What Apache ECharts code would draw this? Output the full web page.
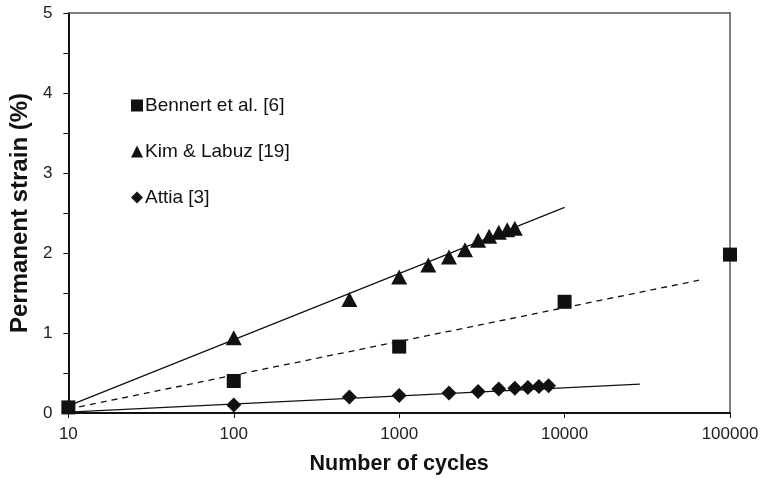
<!DOCTYPE html>
<html>
<head>
<meta charset="utf-8">
<script src="https://cdn.jsdelivr.net/npm/echarts@6/dist/echarts.min.js"></script>
<style>
  html, body { margin: 0; padding: 0; background: #fff; }
  #chart { width: 762px; height: 482px; }
</style>
</head>
<body>
<div id="chart"></div>
<script>
// Measured points
const bennertCycles = [10, 100, 1000, 10000, 100000];
const bennertStrain = [0.07, 0.40, 0.83, 1.39, 1.98];

const kimCycles = [100, 500, 1000, 1500, 2000, 2500, 3000, 3500, 4000, 4500, 5000];
const kimStrain = [0.94, 1.42, 1.70, 1.85, 1.95, 2.04, 2.16, 2.21, 2.26, 2.29, 2.31];

const attiaCycles = [100, 500, 1000, 2000, 3000, 4000, 5000, 6000, 7000, 8000];
const attiaStrain = [0.10, 0.20, 0.22, 0.25, 0.27, 0.30, 0.31, 0.32, 0.33, 0.34];

// Fitted trend lines (end points of each straight line on the log-x scale)
const kimFitCycles = [10, 10000];
const kimFitStrain = [0.09, 2.57];
const bennertFitCycles = [10, 65000];
const bennertFitStrain = [0.05, 1.66];
const attiaFitCycles = [10, 28500];
const attiaFitStrain = [0.01, 0.36];

// Axis settings
const xTicks = [10, 100, 1000, 10000, 100000];
const yMin = 0, yMax = 5, yStep = 0.5;

const seriesNames = ['Bennert et al. [6]', 'Kim & Labuz [19]', 'Attia [3]'];

const FONT = "'Liberation Sans', Arial, sans-serif";
const INK = '#111';

const zip = (xs, ys) => xs.map((x, i) => [x, ys[i]]);

const chart = echarts.init(document.getElementById('chart'), null, { renderer: 'canvas' });

const fitLine = (xs, ys, dashed) => ({
  type: 'line',
  data: zip(xs, ys),
  showSymbol: false,
  symbol: 'none',
  silent: true,
  clip: false,
  z: 2,
  lineStyle: { color: INK, width: 1.3, type: dashed ? [6, 5] : 'solid' }
});

const markers = (name, xs, ys, symbol, size) => ({
  type: 'scatter',
  name: name,
  data: zip(xs, ys),
  symbol: symbol,
  symbolSize: size,
  clip: false,
  z: 4,
  itemStyle: { color: INK, opacity: 1 }
});

chart.setOption({
  animation: false,
  backgroundColor: '#fff',
  textStyle: { fontFamily: FONT },
  grid: { left: 62, right: 32, top: 13, bottom: 69, containLabel: false },
  legend: {
    orient: 'vertical',
    left: 131,
    top: 96,
    padding: 0,
    itemWidth: 12,
    itemHeight: 12,
    itemGap: 27,
    data: seriesNames,
    textStyle: { fontFamily: FONT, fontSize: 19, color: INK, padding: [0, 0, 0, -3] }
  },
  xAxis: [{
    type: 'log',
    logBase: 10,
    min: xTicks[0],
    max: xTicks[xTicks.length - 1],
    name: 'Number of cycles',
    nameLocation: 'middle',
    nameGap: 40,
    nameTextStyle: { fontFamily: FONT, fontSize: 21.5, fontWeight: 'bold', color: INK },
    axisLine: { show: true, lineStyle: { color: INK, width: 2 } },
    axisTick: { show: true, inside: false, length: 5, lineStyle: { color: INK, width: 1 } },
    minorTick: { show: false },
    splitLine: { show: false },
    axisLabel: {
      margin: 13,
      fontFamily: FONT,
      fontSize: 17,
      color: '#222',
      formatter: v => String(Math.round(v))
    }
  }, {
    type: 'value',
    position: 'top',
    min: 0, max: 1,
    axisLine: { show: true, onZero: false, lineStyle: { color: '#555', width: 1.5 } },
    axisTick: { show: false },
    axisLabel: { show: false },
    splitLine: { show: false }
  }],
  yAxis: [{
    type: 'value',
    min: yMin,
    max: yMax,
    interval: yStep,
    name: 'Permanent strain (%)',
    nameLocation: 'middle',
    nameGap: 32,
    nameTextStyle: { fontFamily: FONT, fontSize: 24, fontWeight: 'bold', color: INK },
    axisLine: { show: true, lineStyle: { color: INK, width: 2 } },
    axisTick: { show: true, inside: false, length: 5, lineStyle: { color: INK, width: 1 } },
    splitLine: { show: false },
    axisLabel: {
      margin: 16,
      fontFamily: FONT,
      fontSize: 17,
      color: '#222',
      formatter: v => (Math.abs(v - Math.round(v)) < 1e-9 ? String(Math.round(v)) : '')
    }
  }, {
    type: 'value',
    position: 'right',
    min: 0, max: 1,
    axisLine: { show: true, onZero: false, lineStyle: { color: '#555', width: 1.5 } },
    axisTick: { show: false },
    axisLabel: { show: false },
    splitLine: { show: false }
  }],
  series: [
    fitLine(kimFitCycles, kimFitStrain, false),
    fitLine(bennertFitCycles, bennertFitStrain, true),
    fitLine(attiaFitCycles, attiaFitStrain, false),
    markers(seriesNames[0], bennertCycles, bennertStrain, 'rect', 14),
    markers(seriesNames[1], kimCycles, kimStrain, 'triangle', [16, 15]),
    markers(seriesNames[2], attiaCycles, attiaStrain, 'diamond', [15, 15])
  ]
});
</script>
</body>
</html>
